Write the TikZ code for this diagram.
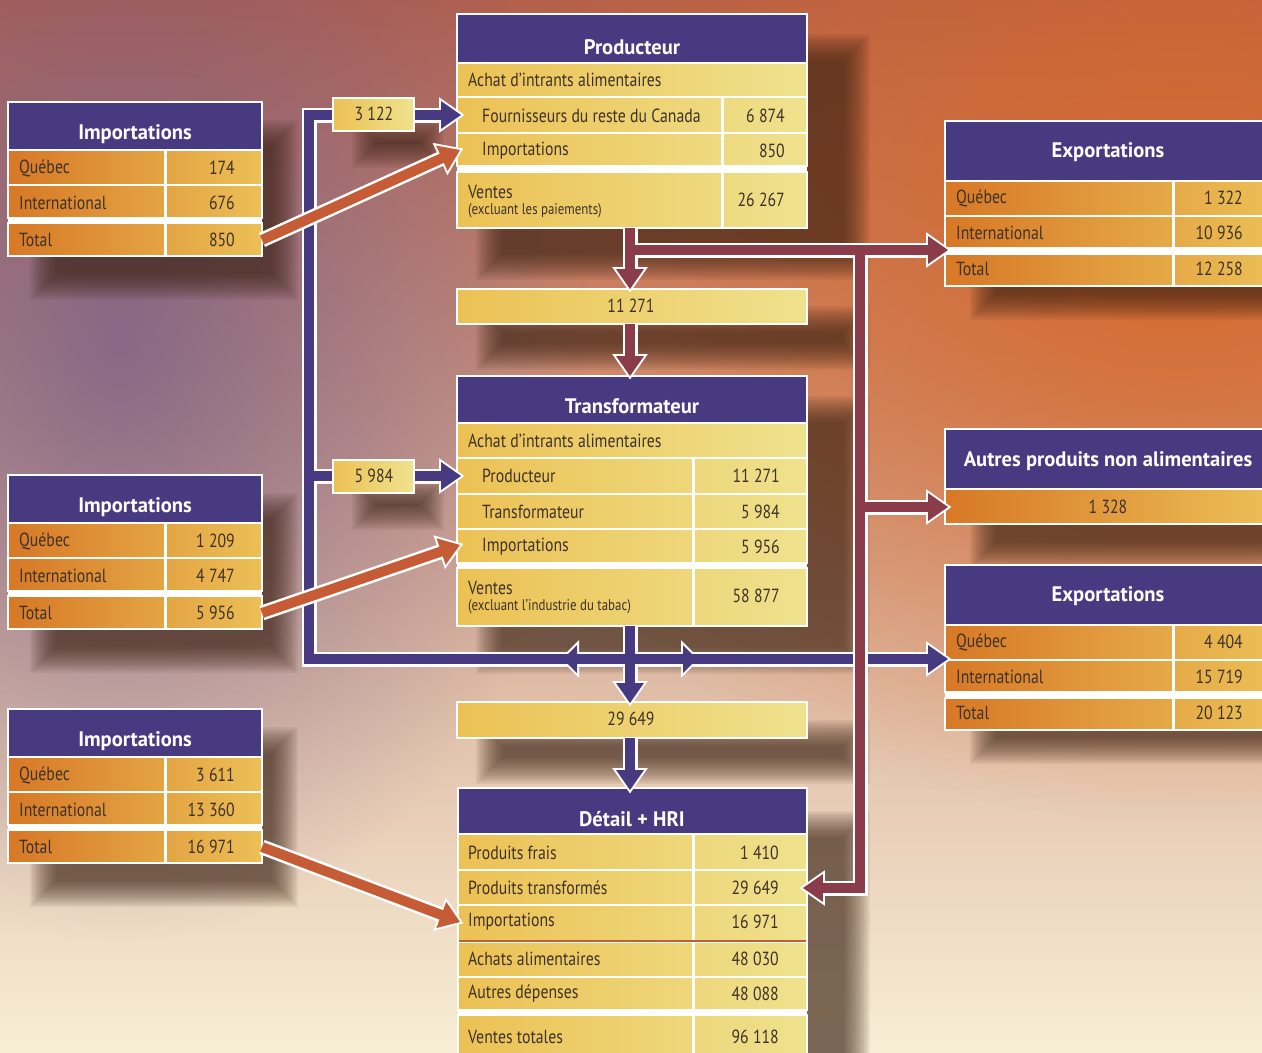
\documentclass[tikz,border=0pt]{standalone}
\usepackage{fontspec}
\setmainfont{PT Sans}[FakeStretch=0.83]
\newfontfamily\ttlfont{PT Sans}[FakeStretch=0.98]
\usetikzlibrary{fadings,calc}
\pgfdeclarelayer{bg}
\pgfdeclarelayer{shd}
\pgfsetlayers{bg,shd,main}

\definecolor{hdr}{RGB}{72,58,128}
\definecolor{mar}{RGB}{139,60,75}
\definecolor{rust}{RGB}{198,92,54}
\definecolor{txt}{RGB}{62,50,40}
\definecolor{orL}{RGB}{215,120,38}
\definecolor{orR}{RGB}{236,192,86}
\definecolor{yeL}{RGB}{236,193,84}
\definecolor{yeR}{RGB}{239,226,142}
\definecolor{bgT}{RGB}{178,96,78}
\definecolor{bgM}{RGB}{230,162,98}
\definecolor{bgB}{RGB}{248,238,214}
\definecolor{bgP}{RGB}{110,90,138}
\definecolor{bgO}{RGB}{216,104,40}
\definecolor{shc}{RGB}{60,35,20}

\tikzfading[name=blobP, inner color=transparent!28, outer color=transparent!100]
\tikzfading[name=blobO, inner color=transparent!5, outer color=transparent!100]

\tikzset{
 lbl/.style={anchor=west, text=txt, font=\fontsize{19}{21}\selectfont, inner sep=0pt},
 val/.style={anchor=east, text=txt, font=\fontsize{19}{21}\selectfont, inner sep=0pt},
 ctr/.style={anchor=center, text=txt, font=\fontsize{19}{21}\selectfont, inner sep=0pt},
 sml/.style={anchor=west, text=txt, font=\fontsize{15.5}{17}\selectfont, inner sep=0pt},
 ttl/.style={anchor=center, text=white, font=\ttlfont\fontsize{21}{24}\selectfont\bfseries, inner sep=0pt},
 hdrbox/.style={fill=hdr, draw=white, line width=2.5pt},
 orow/.style={left color=orL, right color=orR, draw=white, line width=2.5pt},
 yrow/.style={left color=yeL, right color=yeR, draw=white, line width=2.5pt},
 sepline/.style={draw=white, line width=3pt},
 wst/.style={draw=white, line width=15pt, line join=miter},
 whd/.style={fill=white, draw=white, line width=4pt, line join=miter},
 pst/.style={draw=hdr, line width=10pt, line join=miter},
 phd/.style={fill=hdr},
 mst/.style={draw=mar, line width=10pt, line join=miter},
 mhd/.style={fill=mar},
 rst/.style={draw=rust, line width=10pt},
 rhd/.style={fill=rust}
}

\newcommand\sshadow[4]{\begin{pgfonlayer}{shd}\foreach \k in {0,...,13}{\fill[shc, fill opacity=0.07] ({#1+2*\k},{#2+2*\k}) rectangle ({#3-2*\k},{#4-2*\k});}\end{pgfonlayer}}
\newcommand\ahead[3]{\path[#3] (#1) -- ++(#2+145:24.4pt) -- ++(#2-90:28pt) -- cycle;}
\newcommand\aheadS[3]{\path[#3] (#1) -- ++(#2+135:19.8pt) -- ++(#2-90:28pt) -- cycle;}

\newcommand\impbox[5]{%
\begin{scope}[shift={(0,#2)}]
\sshadow{30}{120}{298}{300}
\path[hdrbox] (8,102) rectangle (262,150);
\node[ttl] (#1t) at (135,134) {Importations};
\path[orow] (8,150) rectangle (262,185);
\path[orow] (8,185) rectangle (262,218);
\fill[white] (8,218) rectangle (262,223);
\path[orow] (8,223) rectangle (262,256);
\draw[sepline] (165,150) -- (165,256);
\node[lbl] (#1q) at (19,168) {Québec}; \node[val] (#1qv) at (235,168) {#3};
\node[lbl] (#1i) at (19,203) {International}; \node[val] (#1iv) at (235,203) {#4};
\node[lbl] (#1s) at (19,240) {Total}; \node[val] (#1sv) at (235,240) {#5};
\coordinate (#1) at (262,240);
\end{scope}}

\newcommand\expbox[5]{%
\begin{scope}[shift={(0,#2)}]
\sshadow{970}{140}{1300}{320}
\path[hdrbox] (945,121) rectangle (1275,181);
\node[ttl] (#1t) at (1108,152) {Exportations};
\path[orow] (945,181) rectangle (1275,216);
\path[orow] (945,216) rectangle (1275,248);
\fill[white] (945,248) rectangle (1275,254);
\path[orow] (945,254) rectangle (1275,286);
\draw[sepline] (1173,181) -- (1173,286);
\node[lbl] (#1q) at (956,198) {Québec}; \node[val] (#1qv) at (1243,198) {#3};
\node[lbl] (#1i) at (956,233) {International}; \node[val] (#1iv) at (1243,233) {#4};
\node[lbl] (#1s) at (956,269) {Total}; \node[val] (#1sv) at (1243,269) {#5};
\end{scope}}

\newcommand\purplenet[2]{%
 \draw[#1, shorten >=19pt] (tB) -- (c29t); \ahead{c29t}{-90}{#2}
 \draw[#1, shorten >=19pt] (jP) -- (brBL) -- (brTL) -- (fourn); \ahead{fourn}{0}{#2}
 \draw[#1, shorten >=19pt] (brM) -- (trProd); \ahead{trProd}{0}{#2}
 \draw[#1, shorten >=19pt] (jP) -- (ex2in); \ahead{ex2in}{0}{#2}
 \aheadS{midL}{180}{#2}
 \aheadS{midR}{0}{#2}
 \draw[#1, shorten >=19pt] (c29b) -- (detT); \ahead{detT}{-90}{#2}}

\newcommand\maroonnet[2]{%
 \draw[#1, shorten >=19pt] (pB) -- (c11t); \ahead{c11t}{-90}{#2}
 \draw[#1, shorten >=19pt] (jM1) -- (ex1in); \ahead{ex1in}{0}{#2}
 \draw[#1, shorten >=19pt] (jM2) -- (mC) -- (detPT); \ahead{detPT}{180}{#2}
 \draw[#1, shorten >=19pt] (jM3) -- (autIn); \ahead{autIn}{0}{#2}
 \draw[#1, shorten >=19pt] (c11b) -- (trT); \ahead{trT}{-90}{#2}}

\newcommand\rustarrow[2]{%
 \pgfmathanglebetweenpoints{\pgfpointanchor{#1}{center}}{\pgfpointanchor{#2}{center}}%
 \let\rang\pgfmathresult
 \draw[wst, shorten >=19pt] (#1) -- (#2); \ahead{#2}{\rang}{whd}
 \draw[rst, shorten >=19pt] (#1) -- (#2); \ahead{#2}{\rang}{rhd}}

\begin{document}
\begin{tikzpicture}[x=1pt,y=-1pt]
\clip (0,0) rectangle (1262,1053);
\begin{pgfonlayer}{bg}
\shade[top color=bgT, middle color=bgM, bottom color=bgB] (0,0) rectangle (1262,1053);
\fill[bgO, path fading=blobO] (1180,240) ellipse [x radius=760, y radius=580];
\fill[bgP, path fading=blobP] (120,340) ellipse [x radius=470, y radius=600];
\end{pgfonlayer}

% Importations boxes
\impbox{imA}{0}{174}{676}{850}
\impbox{imB}{373}{1 209}{4 747}{5 956}
\impbox{imC}{607}{3 611}{13 360}{16 971}

% Exportations boxes
\expbox{exA}{0}{1 322}{10 936}{12 258}
\expbox{exB}{444}{4 404}{15 719}{20 123}

% Autres produits
\sshadow{970}{450}{1300}{568}
\path[hdrbox] (945,429) rectangle (1275,489);
\node[ttl] (autt) at (1108,461) {Autres produits non alimentaires};
\path[orow] (945,489) rectangle (1275,524);
\node[ctr] (autv) at (1108,507) {1 328};

% Producteur
\sshadow{476}{34}{870}{280}
\path[hdrbox] (457,14) rectangle (807,63);
\node[ttl] (prt) at (632,47) {Producteur};
\path[yrow] (457,63) rectangle (807,97);
\node[lbl] (pra) at (468,80) {Achat d’intrants alimentaires};
\path[yrow] (457,97) rectangle (807,133);
\node[lbl] (prf) at (482,116) {Fournisseurs du reste du Canada};
\node[val] (prfv) at (785,116) {6 874};
\path[yrow] (457,133) rectangle (807,166);
\node[lbl] (pri) at (482,151) {Importations};
\node[val] (priv) at (785,151) {850};
\fill[white] (457,166) rectangle (807,172);
\path[yrow] (457,172) rectangle (807,228);
\node[lbl] (prv) at (468,192) {Ventes};
\node[sml] (prvs) at (468,211) {(excluant les paiements)};
\node[val] (prvv) at (785,200) {26 267};
\draw[sepline] (722,97) -- (722,228);

% 11 271
\sshadow{476}{306}{870}{370}
\path[yrow] (457,289) rectangle (807,324);
\node[ctr] (b11) at (631,306) {11 271};

% Transformateur
\sshadow{476}{396}{870}{674}
\path[hdrbox] (457,376) rectangle (807,423);
\node[ttl] (trt) at (632,406) {Transformateur};
\path[yrow] (457,423) rectangle (807,458);
\node[lbl] (tra) at (468,441) {Achat d’intrants alimentaires};
\path[yrow] (457,458) rectangle (807,494);
\node[lbl] (trp) at (482,476) {Producteur};
\node[val] (trpv) at (780,476) {11 271};
\path[yrow] (457,494) rectangle (807,529);
\node[lbl] (trr) at (482,512) {Transformateur};
\node[val] (trrv) at (780,512) {5 984};
\path[yrow] (457,529) rectangle (807,563);
\node[lbl] (tri) at (482,547) {Importations};
\node[val] (triv) at (780,547) {5 956};
\fill[white] (457,563) rectangle (807,568);
\path[yrow] (457,568) rectangle (807,626);
\node[lbl] (trv) at (468,588) {Ventes};
\node[sml] (trvs) at (468,607) {(excluant l’industrie du tabac)};
\node[val] (trvv) at (780,596) {58 877};
\draw[sepline] (693,458) -- (693,626);

% 29 649
\sshadow{476}{720}{870}{784}
\path[yrow] (457,702) rectangle (807,738);
\node[ctr] (b29) at (631,719) {29 649};

% Detail + HRI
\sshadow{476}{811}{870}{1095}
\path[hdrbox] (458,788) rectangle (807,834);
\node[ttl] (det) at (632,819) {Détail + HRI};
\path[yrow] (458,834) rectangle (807,870);
\node[lbl] (d1) at (468,853) {Produits frais}; \node[val] (d1v) at (779,853) {1 410};
\path[yrow] (458,870) rectangle (807,905);
\node[lbl] (d2) at (468,888) {Produits transformés}; \node[val] (d2v) at (779,888) {29 649};
\path[yrow] (458,905) rectangle (807,942);
\node[lbl] (d3) at (468,922) {Importations}; \node[val] (d3v) at (779,922) {16 971};
\path[yrow] (458,942) rectangle (807,977);
\node[lbl] (d4) at (468,959) {Achats alimentaires}; \node[val] (d4v) at (779,959) {48 030};
\path[yrow] (458,977) rectangle (807,1010);
\node[lbl] (d5) at (468,994) {Autres dépenses}; \node[val] (d5v) at (779,994) {48 088};
\fill[white] (458,1010) rectangle (807,1015);
\path[yrow] (458,1015) rectangle (807,1070);
\node[lbl] (d6) at (468,1037) {Ventes totales}; \node[val] (d6v) at (779,1037) {96 118};
\draw[sepline] (693,834) -- (693,1070);
\draw[rust, line width=2.5pt] (459,941) -- (806,941);

% connector points
\coordinate (tB) at (630,626);
\coordinate (jP) at (630,659);
\coordinate (c29t) at (630,703);
\coordinate (brBL) at (309,659);
\coordinate (brTL) at (309,115);
\coordinate (fourn) at (461,115);
\coordinate (brM) at (309,476);
\coordinate (trProd) at (461,476);
\coordinate (ex2in) at (948,659);
\coordinate (midL) at (563,659);
\coordinate (midR) at (697,659);
\coordinate (c29b) at (630,738);
\coordinate (detT) at (630,790);
\coordinate (pB) at (630,228);
\coordinate (c11t) at (630,289);
\coordinate (jM1) at (630,250);
\coordinate (ex1in) at (948,250);
\coordinate (jM2) at (860,250);
\coordinate (mC) at (860,888);
\coordinate (detPT) at (803,888);
\coordinate (jM3) at (860,507);
\coordinate (autIn) at (948,507);
\coordinate (c11b) at (630,324);
\coordinate (trT) at (630,376);
\coordinate (prImp) at (460,150);
\coordinate (trImp) at (460,545);
\coordinate (dImp) at (460,922);

\purplenet{wst}{whd}
\purplenet{pst}{phd}
\maroonnet{wst}{whd}
\maroonnet{mst}{mhd}
\rustarrow{imA}{prImp}
\rustarrow{imB}{trImp}
\rustarrow{imC}{dImp}

% small flow boxes
\sshadow{352}{118}{444}{168}
\path[yrow] (333,98) rectangle (414,131);
\node[ctr] (f3122) at (374,114) {3 122};
\sshadow{352}{480}{444}{530}
\path[yrow] (333,460) rectangle (414,493);
\node[ctr] (f5984) at (374,476) {5 984};
\end{tikzpicture}
\end{document}
